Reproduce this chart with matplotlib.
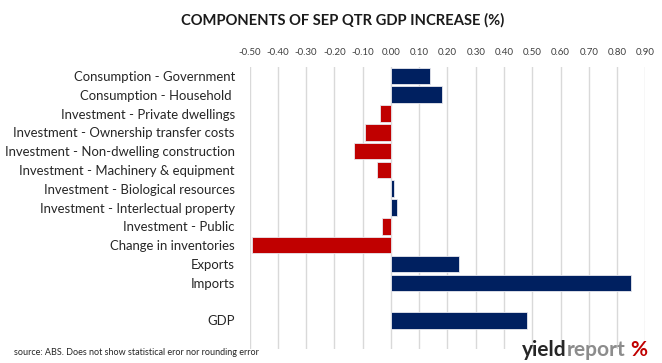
import matplotlib.pyplot as plt
import numpy as np

# contributions to quarterly GDP growth, percentage points
components = ['Consumption - Government', 'Consumption - Household ',
              'Investment - Private dwellings', 'Investment - Ownership transfer costs',
              'Investment - Non-dwelling construction', 'Investment - Machinery & equipment',
              'Investment - Biological resources', 'Investment - Interlectual property',
              'Investment - Public', 'Change in inventories', 'Exports', 'Imports']
values = [0.14, 0.18, -0.04, -0.09, -0.13, -0.05, 0.01, 0.02, -0.03, -0.49, 0.24, 0.85]
gdp_label = 'GDP'
gdp_value = 0.48
xticks = [-0.5, -0.4, -0.3, -0.2, -0.1, 0.0, 0.1, 0.2, 0.3, 0.4, 0.5, 0.6, 0.7, 0.8, 0.9]

NAVY = '#002060'
RED = '#C00000'

plt.rcParams['font.family'] = ['Lato', 'DejaVu Sans']

labels = components + [gdp_label]
vals = values + [gdp_value]
# one empty slot between the components and GDP, one after GDP
ypos = list(range(len(components))) + [len(components) + 1]

fig = plt.figure(figsize=(6.62, 3.63), dpi=100)
ax = fig.add_axes([0.3769, 0.0397, 0.598, 0.777])

cols = [RED if v < 0 else NAVY for v in vals]
ax.barh(ypos, vals, height=0.88, color=cols, edgecolor='#E8E8EE', linewidth=0.6, zorder=3)

ax.set_ylim(len(components) + 2.5, -0.5)
ax.set_xlim(-0.5, 0.9)
ax.set_xticks(xticks)
ax.set_xticklabels(['%.2f' % t for t in xticks], fontsize=7, color='#404040')
ax.xaxis.tick_top()
ax.tick_params(axis='x', length=0, pad=7)
ax.set_yticks(ypos)
ax.set_yticklabels(labels, fontsize=9.45, color='#262626')
ax.tick_params(axis='y', length=0, pad=10.5)
ax.grid(axis='x', color='#D9D9D9', linewidth=1.0, zorder=0)
for s in ax.spines.values():
    s.set_visible(False)

fig.text(0.518, 0.945, 'COMPONENTS OF SEP QTR GDP INCREASE (%)', ha='center', va='center',
         fontsize=10.6, fontweight='bold', color='#1a1a1a')
fig.text(0.021, 0.030, 'source: ABS. Does not show statistical eror nor rounding error',
         ha='left', va='center', fontsize=6.5, color='#262626')

# logo
t1 = fig.text(0.788, 0.035, 'yield', ha='left', va='center', fontsize=15,
              fontweight='bold', color='#262626')
fig.canvas.draw()
bb = t1.get_window_extent().transformed(fig.transFigure.inverted())
t2 = fig.text(bb.x1, 0.035, 'report', ha='left', va='center', fontsize=15,
              fontweight='bold', color='#8C8C8C')
fig.canvas.draw()
bb = t2.get_window_extent().transformed(fig.transFigure.inverted())
fig.text(bb.x1 + 0.008, 0.035, '%', ha='left', va='center', fontsize=15,
         fontweight='bold', color='#C00000')

fig.savefig('out.png', dpi=100)
